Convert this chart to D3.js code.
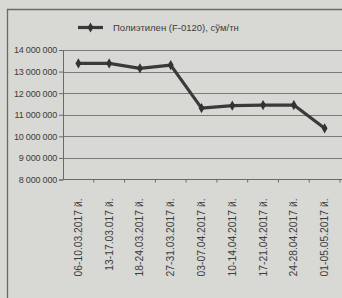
<!DOCTYPE html>
<html>
<head>
<meta charset="utf-8">
<script src="https://cdn.jsdelivr.net/npm/d3@7"></script>
<style>
  body { margin: 0; background: #d8d8d4; }
  svg { display: block; }
  text { font-family: "Liberation Sans", Arial, sans-serif; fill: #3c3c3c; }
</style>
</head>
<body>
<script>
// chart data
var weeks = ["06-10.03.2017 й.", "13-17.03.017 й.", "18-24.03.2017 й.", "27-31.03.2017 й.",
             "03-07.04.2017 й.", "10-14.04.2017 й.", "17-21.04.2017 й.", "24-28.04.2017 й.",
             "01-05.05.2017 й."]
var prices = [13380000, 13380000, 13150000, 13300000, 11310000, 11420000, 11450000, 11450000, 10370000]
var yTicks = [8000000, 9000000, 10000000, 11000000, 12000000, 13000000, 14000000]
var seriesName = "Полиэтилен (F-0120), сўм/тн"

var W = 342, H = 298
var plot = {left: 63, right: 340, top: 50, bottom: 179.5}

var svg = d3.select("body").append("svg")
    .attr("width", W)
    .attr("height", H)

// outer frame of the chart box (cut off at the right and bottom)
svg.append("path")
    .attr("d", "M7.5," + H + "V9.5H" + (W + 2))
    .attr("fill", "none")
    .attr("stroke", "#6a6a6a")
    .attr("stroke-width", 1.3)

var x = d3.scaleBand()
    .domain(weeks)
    .range([plot.left, plot.right])

var y = d3.scaleLinear()
    .domain([8000000, 14000000])
    .range([plot.bottom, plot.top])

var fmt = function(d) { return d3.format(",")(d).replace(/,/g, " ") }

// gridlines
svg.append("g")
    .selectAll("line")
    .data(yTicks.slice(1))
    .enter().append("line")
    .attr("x1", plot.left)
    .attr("x2", W)
    .attr("y1", function(d) { return Math.round(y(d)) + 0.5 })
    .attr("y2", function(d) { return Math.round(y(d)) + 0.5 })
    .attr("stroke", "#7a7a7a")
    .attr("stroke-width", 1.1)

// y axis
var yAxis = d3.axisLeft(y)
    .tickValues(yTicks)
    .tickFormat(fmt)
    .tickSize(4)
    .tickPadding(2)

var gy = svg.append("g")
    .attr("transform", "translate(" + plot.left + ",0)")
    .call(yAxis)
gy.select(".domain").attr("stroke", "#6a6a6a")
gy.selectAll(".tick line").attr("stroke", "#6a6a6a")
gy.selectAll("text")
    .style("font-size", "9px")
    .style("letter-spacing", "-0.2px")
    .attr("fill", "#3c3c3c")

// x axis with ticks between categories
var boundaries = weeks.map(function(d) { return x(d) + x.bandwidth() })
var gx = svg.append("g")
gx.append("line")
    .attr("x1", plot.left).attr("x2", W)
    .attr("y1", plot.bottom).attr("y2", plot.bottom)
    .attr("stroke", "#6a6a6a")
    .attr("stroke-width", 1.1)
gx.selectAll(".tk")
    .data(boundaries)
    .enter().append("line")
    .attr("class", "tk")
    .attr("x1", function(d) { return d }).attr("x2", function(d) { return d })
    .attr("y1", plot.bottom).attr("y2", plot.bottom + 3)
    .attr("stroke", "#6a6a6a")

gx.selectAll(".lbl")
    .data(weeks)
    .enter().append("text")
    .attr("class", "lbl")
    .attr("transform", function(d) {
      return "translate(" + (x(d) + x.bandwidth() / 2 + 3.5) + "," + (plot.bottom + 19) + ") rotate(-90)"
    })
    .attr("text-anchor", "end")
    .style("font-size", "10.3px")
    .text(function(d) { return d })

// the series line
var line = d3.line()
    .x(function(d, i) { return x(weeks[i]) + x.bandwidth() / 2 })
    .y(function(d) { return y(d) })

svg.append("path")
    .datum(prices)
    .attr("d", line)
    .attr("fill", "none")
    .attr("stroke", "#3a3a3a")
    .attr("stroke-width", 3.2)
    .attr("stroke-linejoin", "round")

var diamond = d3.symbol().type(d3.symbolDiamond).size(30)
svg.selectAll(".pt")
    .data(prices)
    .enter().append("path")
    .attr("class", "pt")
    .attr("d", diamond)
    .attr("transform", function(d, i) {
      return "translate(" + (x(weeks[i]) + x.bandwidth() / 2) + "," + y(d) + ")"
    })
    .attr("fill", "#333")

// legend
var lg = svg.append("g").attr("transform", "translate(78,27.5)")
lg.append("line")
    .attr("x1", 0).attr("x2", 25)
    .attr("stroke", "#3a3a3a")
    .attr("stroke-width", 3.2)
lg.append("path")
    .attr("d", diamond)
    .attr("transform", "translate(12.5,0)")
    .attr("fill", "#333")
lg.append("text")
    .attr("x", 35)
    .attr("y", 3.5)
    .style("font-size", "9.5px")
    .text(seriesName)
</script>
</body>
</html>
